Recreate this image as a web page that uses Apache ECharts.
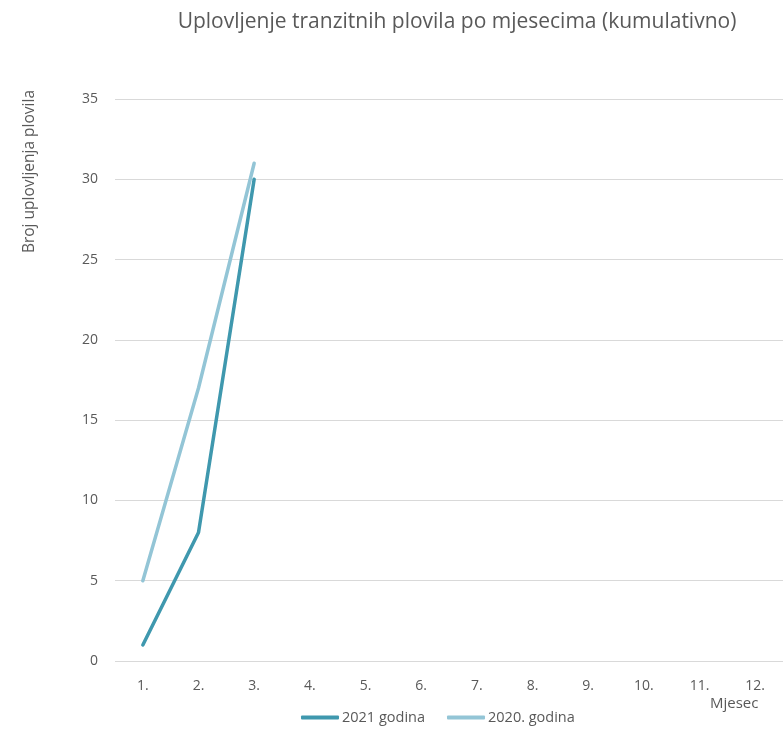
<!DOCTYPE html>
<html>
<head>
<meta charset="utf-8">
<script src="https://cdn.jsdelivr.net/npm/echarts@6/dist/echarts.min.js"></script>
<style>html,body{margin:0;padding:0;background:#fff}#c{width:783px;height:731px}</style>
</head>
<body>
<div id="c"></div>
<script>
var categories = ['1.', '2.', '3.', '4.', '5.', '6.', '7.', '8.', '9.', '10.', '11.', '12.'];
var series2021 = [1, 8, 30];
var series2020 = [5, 17, 31];
var seriesNames = ['2021 godina', '2020. godina'];
var chartTitle = 'Uplovljenje tranzitnih plovila po mjesecima (kumulativno)';
var yAxisTitle = 'Broj uplovljenja plovila';
var xAxisTitle = 'Mjesec';

var FONT = '"Open Sans", "Noto Sans", sans-serif';
var chart = echarts.init(document.getElementById('c'));
chart.setOption({
  animation: false,
  title: {
    text: chartTitle, left: 452, top: 7, textAlign: 'center',
    textStyle: {fontFamily: FONT, fontSize: 21, fontWeight: 'normal', color: '#595959'}
  },
  legend: {
    data: seriesNames, bottom: 1, left: 296, itemWidth: 38, itemHeight: 4, itemGap: 22,
    icon: 'roundRect',
    textStyle: {fontFamily: FONT, fontSize: 14.5, color: '#595959', padding: [0, 0, 0, -2]}
  },
  grid: {left: 115, right: -17, top: 99, bottom: 70},
  xAxis: {
    type: 'category', data: categories, boundaryGap: true,
    axisLine: {show: false}, axisTick: {show: false},
    axisLabel: {fontFamily: FONT, fontSize: 14, color: '#595959', margin: 18}
  },
  yAxis: {
    type: 'value', min: 0, max: 35, interval: 5,
    axisLine: {show: false}, axisTick: {show: false},
    splitLine: {lineStyle: {color: '#d9d9d9', width: 1}},
    axisLabel: {fontFamily: FONT, fontSize: 14, color: '#595959', margin: 17}
  },
  graphic: [
    {type: 'text', left: 22, top: 90, rotation: Math.PI / 2,
     style: {text: yAxisTitle, font: '15.5px ' + FONT, fill: '#595959'}},
    {type: 'text', left: 710, top: 696,
     style: {text: xAxisTitle, font: '15px ' + FONT, fill: '#595959'}}
  ],
  series: [
    {name: seriesNames[0], type: 'line', data: series2021, showSymbol: false, symbol: 'none',
     lineStyle: {color: '#3f98ae', width: 3.5, cap: 'round'}, itemStyle: {color: '#3f98ae'}},
    {name: seriesNames[1], type: 'line', data: series2020, showSymbol: false, symbol: 'none',
     lineStyle: {color: '#93c5d6', width: 3.5, cap: 'round'}, itemStyle: {color: '#93c5d6'}, z: 1}
  ]
});
</script>
</body>
</html>
